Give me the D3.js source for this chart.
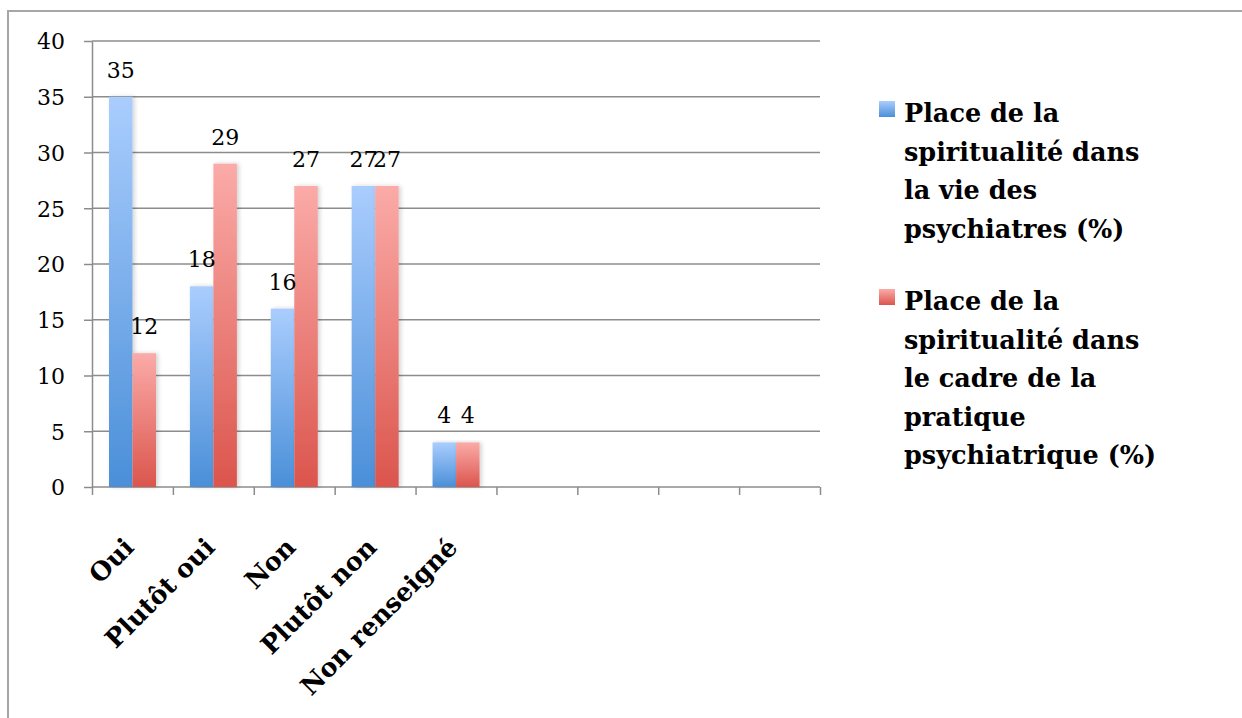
<!DOCTYPE html>
<html>
<head>
<meta charset="utf-8">
<script src="https://cdn.jsdelivr.net/npm/d3@7"></script>
<style>
  body { margin: 0; background: #fff; }
  text { font-family: "DejaVu Serif", "Liberation Serif", serif; fill: #000; }
  .axis path, .axis line { stroke: #8c8c8c; stroke-width: 1.5; }
</style>
</head>
<body>
<div id="chart"></div>
<script>
// categories (last 4 slots are empty in the original sheet)
var categories = ["Oui", "Plutôt oui", "Non", "Plutôt non", "Non renseigné", "", "", "", ""];
var seriesNames = [
  "Place de la spiritualité dans la vie des psychiatres (%)",
  "Place de la spiritualité dans le cadre de la pratique psychiatrique (%)"
];
var legendLines = [
  ["Place de la", "spiritualité dans", "la vie des", "psychiatres (%)"],
  ["Place de la", "spiritualité dans", "le cadre de la", "pratique", "psychiatrique (%)"]
];
var vieValues = [35, 18, 16, 27, 4];
var pratiqueValues = [12, 29, 27, 27, 4];
var yTicks = [0, 5, 10, 15, 20, 25, 30, 35, 40];

var width = 1242, height = 718;
var plotLeft = 92, plotRight = 820, plotTop = 41, plotBottom = 487;

var svg = d3.select("#chart").append("svg")
    .attr("width", width)
    .attr("height", height);

var defs = svg.append("defs");
function grad(id, c1, c2) {
    var g = defs.append("linearGradient").attr("id", id)
        .attr("x1", "0%").attr("y1", "0%").attr("x2", "0%").attr("y2", "100%");
    g.append("stop").attr("offset", "0%").attr("stop-color", c1);
    g.append("stop").attr("offset", "100%").attr("stop-color", c2);
}
grad("g-blue", "#aacdfe", "#4a8fd8");
grad("g-red", "#fbaba8", "#db554d");
var colors = ["url(#g-blue)", "url(#g-red)"];

var shadow = defs.append("filter").attr("id", "shadow")
    .attr("x", "-20%").attr("y", "-5%").attr("width", "150%").attr("height", "110%");
shadow.append("feDropShadow").attr("dx", 2).attr("dy", 0).attr("stdDeviation", 2)
    .attr("flood-color", "#000").attr("flood-opacity", 0.18);

// outer frame
svg.append("rect")
    .attr("x", 8).attr("y", 11)
    .attr("width", 1400).attr("height", 900)
    .attr("fill", "none").attr("stroke", "#a6a6a6").attr("stroke-width", 2);

var y = d3.scaleLinear().domain([0, 40]).range([plotBottom, plotTop]);
var x = d3.scaleBand().domain(d3.range(categories.length)).range([plotLeft, plotRight]);
var xEdge = d3.scaleLinear().domain([0, categories.length]).range([plotLeft, plotRight]);
var xSub = d3.scaleBand().domain([0, 1]).range([17, 64]);

// gridlines
svg.append("g").selectAll("line")
    .data(yTicks.slice(1))
    .enter().append("line")
    .attr("x1", plotLeft).attr("x2", plotRight)
    .attr("y1", d => y(d)).attr("y2", d => y(d))
    .attr("stroke", "#8c8c8c").attr("stroke-width", 1.5);

// y axis
var yAxis = svg.append("g")
    .attr("class", "axis")
    .attr("transform", "translate(" + plotLeft + ",0)")
    .call(d3.axisLeft(y).tickValues(yTicks).tickSize(8).tickPadding(19).tickSizeOuter(0));
yAxis.selectAll("text").style("font-size", "22px").attr("dy", "0.36em");

// x axis (ticks on category edges)
var xAxis = svg.append("g")
    .attr("class", "axis")
    .attr("transform", "translate(0," + plotBottom + ")")
    .call(d3.axisBottom(xEdge).tickValues(d3.range(categories.length + 1)).tickSize(8).tickSizeOuter(0).tickFormat(""));
xAxis.select(".domain").attr("d", "M" + plotLeft + ",0H" + plotRight);

// bars
var rows = vieValues.map((v, i) => [v, pratiqueValues[i]]);
var groups = svg.append("g").selectAll("g")
    .data(rows)
    .enter().append("g")
    .attr("transform", (d, i) => "translate(" + x(i) + ",0)");

groups.selectAll("rect")
    .data(d => d)
    .enter().append("rect")
    .attr("x", (d, j) => xSub(j))
    .attr("width", xSub.bandwidth())
    .attr("y", d => y(d))
    .attr("height", d => plotBottom - y(d))
    .attr("fill", (d, j) => colors[j])
    .attr("filter", "url(#shadow)");

groups.selectAll("text")
    .data(d => d)
    .enter().append("text")
    .attr("x", (d, j) => xSub(j) + xSub.bandwidth() / 2)
    .attr("y", d => y(d) - 19)
    .attr("text-anchor", "middle")
    .style("font-size", "22px")
    .text(d => d);

// category labels, rotated
svg.append("g").selectAll("text")
    .data(categories)
    .enter().append("text")
    .attr("transform", (d, i) => "translate(" + (x(i) + x.bandwidth() / 2 - 10) + ",536) rotate(-45)")
    .attr("text-anchor", "end")
    .attr("dy", "0.72em")
    .style("font-size", "25.5px")
    .style("font-weight", "bold")
    .text(d => d);

// legend
var legend = svg.append("g").selectAll("g")
    .data(seriesNames)
    .enter().append("g")
    .attr("transform", (d, i) => "translate(879," + (i === 0 ? 101 : 289) + ")");

legend.append("rect")
    .attr("width", 16).attr("height", 16)
    .attr("fill", (d, i) => colors[i]);

legend.append("text")
    .style("font-size", "25.5px")
    .style("font-weight", "bold")
    .selectAll("tspan")
    .data((d, i) => legendLines[i])
    .enter().append("tspan")
    .attr("x", 25)
    .attr("y", (d, k) => 21 + k * 38.5)
    .text(d => d);
</script>
</body>
</html>
